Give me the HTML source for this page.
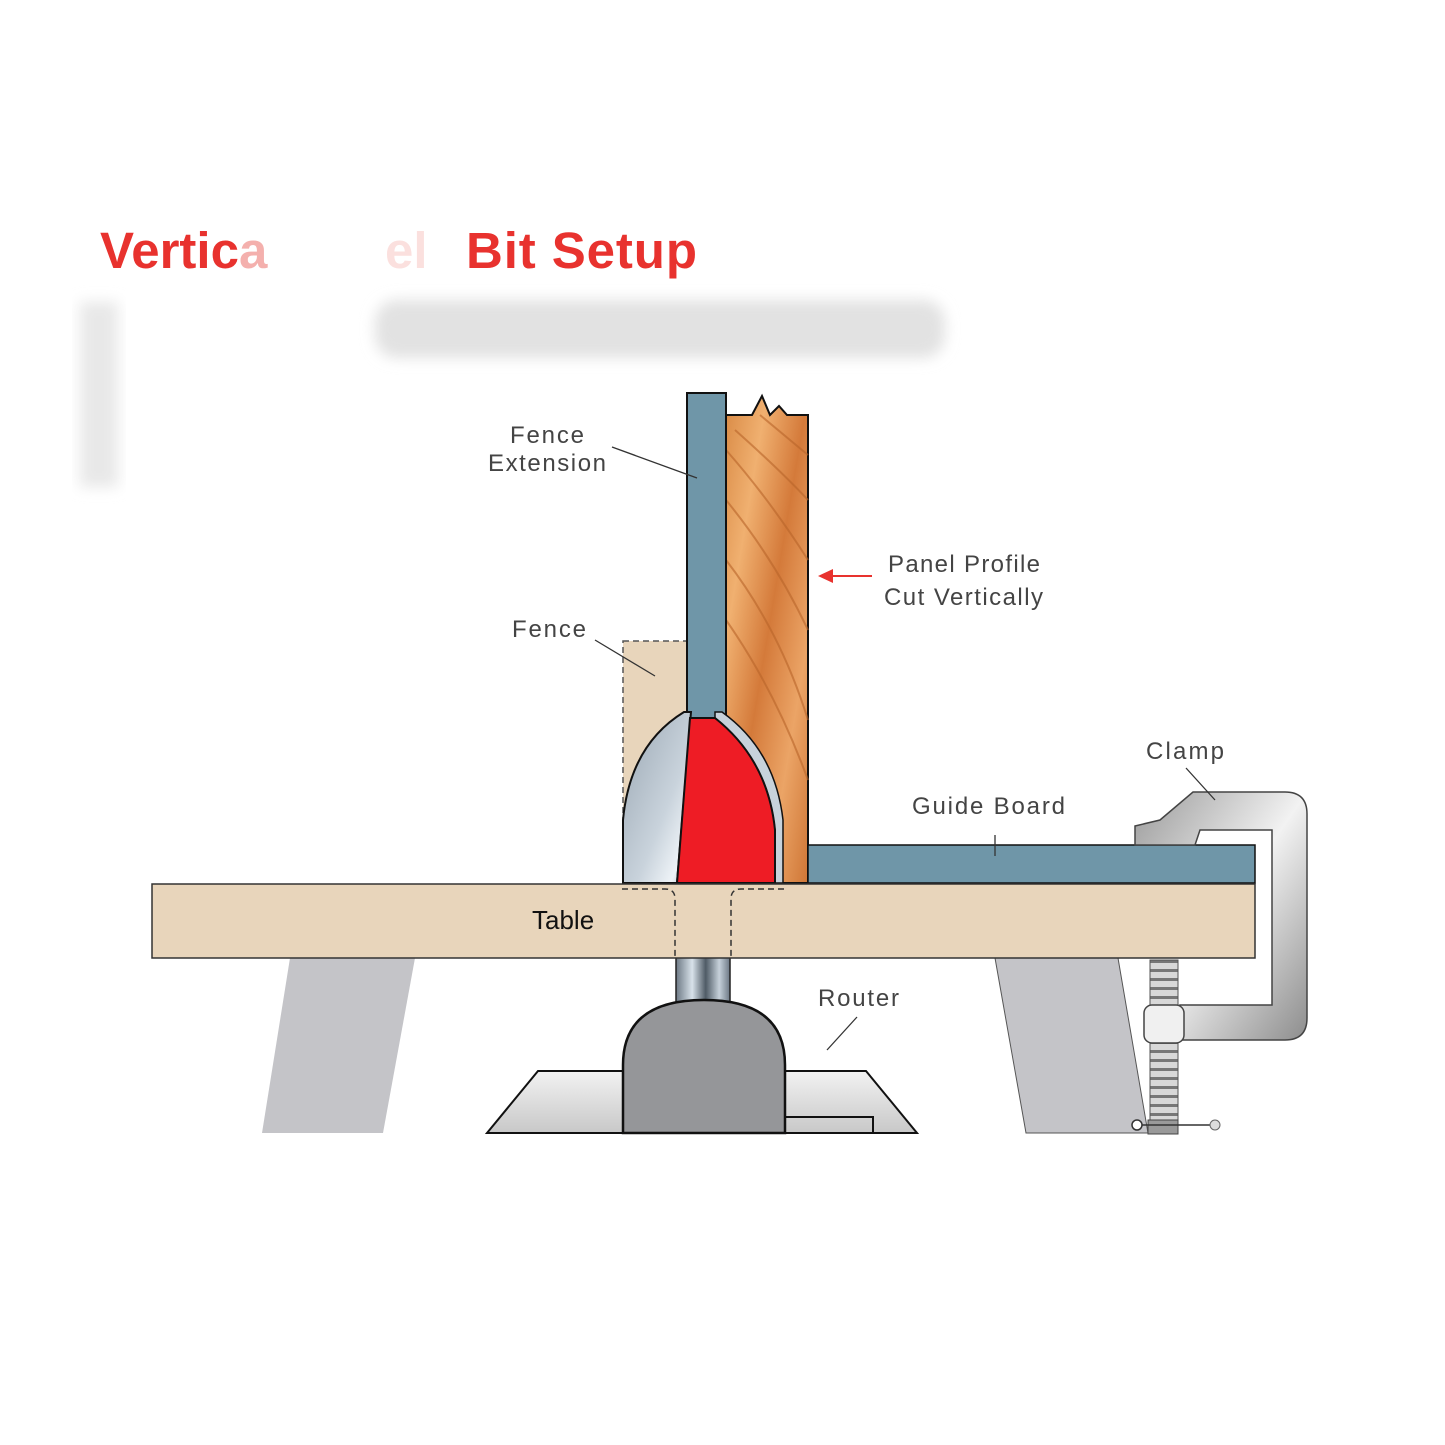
<!DOCTYPE html>
<html><head><meta charset="utf-8"><style>
html,body{margin:0;padding:0;background:#fff}
svg{display:block}
text{font-family:"Liberation Sans",sans-serif}
</style></head><body>
<svg width="1445" height="1445" viewBox="0 0 1445 1445" xmlns="http://www.w3.org/2000/svg">
<defs>
<filter id="bl" x="-20%" y="-50%" width="140%" height="200%"><feGaussianBlur stdDeviation="7"/></filter>
<linearGradient id="wood" x1="0" y1="0" x2="1" y2="1">
<stop offset="0" stop-color="#d98a45"/><stop offset="0.25" stop-color="#f0b070"/><stop offset="0.5" stop-color="#d47a3a"/><stop offset="0.75" stop-color="#eba466"/><stop offset="1" stop-color="#cf7636"/></linearGradient>
<linearGradient id="silver" x1="0" y1="0" x2="1" y2="1">
<stop offset="0" stop-color="#9aa7b3"/><stop offset="0.6" stop-color="#c9d3dc"/><stop offset="0.85" stop-color="#eef3f7"/><stop offset="1" stop-color="#a8b3bd"/></linearGradient>
<linearGradient id="coll" x1="0" y1="0" x2="1" y2="0">
<stop offset="0" stop-color="#6c7884"/><stop offset="0.3" stop-color="#d8e2ea"/><stop offset="0.55" stop-color="#4f5b66"/><stop offset="0.8" stop-color="#c6d1da"/><stop offset="1" stop-color="#6c7884"/></linearGradient>
<linearGradient id="clampg" x1="0" y1="0" x2="1" y2="1">
<stop offset="0" stop-color="#9a9a9a"/><stop offset="0.5" stop-color="#f2f2f2"/><stop offset="1" stop-color="#8d8d8d"/></linearGradient>
<linearGradient id="baseg" x1="0" y1="0" x2="0" y2="1">
<stop offset="0" stop-color="#f2f2f2"/><stop offset="1" stop-color="#c8c8c8"/></linearGradient>
<pattern id="thread" width="28" height="9" patternUnits="userSpaceOnUse">
<rect width="28" height="9" fill="#d8d8d8"/><rect y="6" width="28" height="3" fill="#777"/></pattern>
</defs>

<!-- title -->
<text x="100" y="268" font-size="51" font-weight="bold" fill="#e8322e">Vertic<tspan fill="#f4b0ad">a</tspan></text>
<text x="385" y="268" font-size="51" font-weight="bold" fill="#fbe0de">el</text>
<text x="466" y="268" font-size="51" font-weight="bold" fill="#e8322e" textLength="231">Bit Setup</text>

<!-- blurred gray bands -->
<rect x="375" y="300" width="570" height="58" rx="22" fill="#e2e2e2" filter="url(#bl)"/>
<rect x="80" y="302" width="38" height="185" fill="#e8e8e8" filter="url(#bl)"/>

<!-- legs -->
<polygon points="290,958 415,958 383,1133 262,1133" fill="#c4c4c8"/>
<polygon points="995,958 1118,958 1148,1133 1026,1133" fill="#c4c4c8" stroke="#555" stroke-width="1"/>

<!-- router base -->
<polygon points="487,1133 538,1071 866,1071 917,1133" fill="url(#baseg)" stroke="#111" stroke-width="2"/>
<polyline points="785,1117 873,1117 873,1133" fill="none" stroke="#111" stroke-width="2"/>
<rect x="676" y="955" width="54" height="47" fill="url(#coll)" stroke="#222" stroke-width="1.5"/>
<path d="M623,1133 V1065 Q623,1000 704,1000 Q785,1000 785,1065 V1133 Z" fill="#959699" stroke="#111" stroke-width="2.5"/>

<!-- fence (beige dashed) -->
<rect x="623" y="641" width="64" height="242" fill="#e8d5bb" stroke="#555" stroke-width="1.5" stroke-dasharray="6,4"/>

<!-- wood -->
<path d="M726,415 L752,415 L762,396 L770,415 L779,406 L787,415 L808,415 L808,883 L726,883 Z" fill="url(#wood)" stroke="#111" stroke-width="2"/>
<g stroke="#b9652a" stroke-width="2" fill="none" opacity="0.6">
<path d="M726,450 Q770,500 808,560"/><path d="M726,500 Q775,560 808,630"/><path d="M726,560 Q780,630 808,720"/><path d="M735,430 Q780,470 808,500"/><path d="M760,415 Q790,440 808,455"/><path d="M726,620 Q775,690 808,780"/>
</g>

<!-- fence extension -->
<rect x="687" y="393" width="39" height="325" fill="#6f96a8" stroke="#111" stroke-width="2"/>

<!-- bit -->
<path d="M623,883 L623,820 Q630,745 684,712 L691,712 L677,883 Z" fill="url(#silver)" stroke="#111" stroke-width="2"/>
<path d="M715,712 L722,712 Q775,750 783,820 L783,883 L775,883 L775,830 Q768,760 715,718 Z" fill="#c7d2db" stroke="#111" stroke-width="1.5"/>
<path d="M690,718 L715,718 Q768,760 775,830 L775,883 L677,883 Z" fill="#ee1c25" stroke="#111" stroke-width="2"/>

<!-- guide board -->
<rect x="808" y="845" width="447" height="38" fill="#6f96a8" stroke="#111" stroke-width="1.5"/>

<!-- table -->
<rect x="152" y="884" width="1103" height="74" fill="#e8d5bb" stroke="#333" stroke-width="1.5"/>
<path d="M622,889 H665 Q675,889 675,899 V958 M784,889 H741 Q731,889 731,899 V958" fill="none" stroke="#333" stroke-width="1.5" stroke-dasharray="6,4"/>
<text x="532" y="929" font-size="26" fill="#111">Table</text>

<!-- clamp -->
<path d="M1135,845 V826 L1160,820 L1193,792 H1285 Q1307,792 1307,814 V1018 Q1307,1040 1285,1040 H1180 V1005 H1272 V830 H1200 L1195,845 Z" fill="url(#clampg)" stroke="#444" stroke-width="1.5"/>
<rect x="1150" y="960" width="28" height="170" fill="url(#thread)" stroke="#555" stroke-width="1"/>
<rect x="1144" y="1005" width="40" height="38" rx="8" fill="#f0f0f0" stroke="#444" stroke-width="1.5"/>
<rect x="1148" y="1120" width="30" height="14" fill="#999" stroke="#444"/>
<line x1="1140" y1="1125" x2="1215" y2="1125" stroke="#333" stroke-width="1.5"/>
<circle cx="1137" cy="1125" r="5" fill="#fff" stroke="#333" stroke-width="1.5"/>
<circle cx="1215" cy="1125" r="5" fill="#ddd" stroke="#666" stroke-width="1"/>

<!-- labels -->
<g font-size="24" fill="#444">
<text x="547" y="443" text-anchor="middle" textLength="74">Fence</text>
<text x="547" y="471" text-anchor="middle" textLength="118">Extension</text>
<text x="888" y="572" textLength="152">Panel Profile</text>
<text x="884" y="605" textLength="159">Cut Vertically</text>
<text x="512" y="637" textLength="74">Fence</text>
<text x="1146" y="759" textLength="78">Clamp</text>
<text x="912" y="814" textLength="153">Guide Board</text>
<text x="818" y="1006" textLength="81">Router</text>
</g>
<g stroke="#333" stroke-width="1.3">
<line x1="612" y1="447" x2="697" y2="478"/>
<line x1="595" y1="640" x2="655" y2="676"/>
<line x1="1186" y1="768" x2="1215" y2="800"/>
<line x1="995" y1="835" x2="995" y2="856"/>
<line x1="857" y1="1017" x2="827" y2="1050"/>
</g>
<line x1="830" y1="576" x2="872" y2="576" stroke="#e8322e" stroke-width="2"/>
<polygon points="818,576 833,569 833,583" fill="#e8322e"/>
</svg>
</body></html>
